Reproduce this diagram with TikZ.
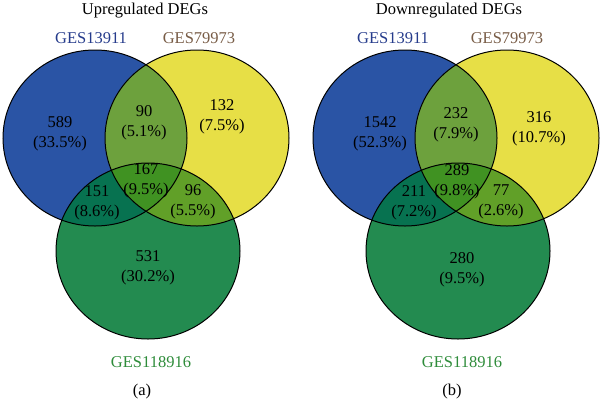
\documentclass[tikz,border=0pt]{standalone}
\usepackage{fontspec}
\setmainfont{Liberation Serif}
\definecolor{cblue}{RGB}{42,84,165}
\definecolor{cyellow}{RGB}{231,223,70}
\definecolor{cgreen}{RGB}{35,139,80}
\definecolor{cby}{RGB}{109,161,61}
\definecolor{cbg}{RGB}{7,114,80}
\definecolor{cyg}{RGB}{97,160,40}
\definecolor{cc}{RGB}{64,146,34}
\definecolor{tblue}{RGB}{38,60,140}
\definecolor{tbrown}{RGB}{120,92,70}
\definecolor{tgreen}{RGB}{46,140,58}
\tikzset{
  txt/.style={font=\fontsize{16.5}{20.5}\selectfont, align=center, inner sep=0pt, text=black},
  outl/.style={draw=black, line width=1pt}
}
\newcommand\vennA{(95,138) ellipse [x radius=92pt, y radius=88pt]}
\newcommand\vennB{(197,138) ellipse [x radius=92pt, y radius=88pt]}
\newcommand\vennC{(148,251) ellipse [x radius=92pt, y radius=88pt]}
\newcommand\venndraw{%
  \fill[cblue] \vennA; \fill[cyellow] \vennB; \fill[cgreen] \vennC;
  \begin{scope}\clip \vennA; \fill[cby] \vennB; \end{scope}
  \begin{scope}\clip \vennA; \fill[cbg] \vennC; \end{scope}
  \begin{scope}\clip \vennB; \fill[cyg] \vennC; \end{scope}
  \begin{scope}\clip \vennA; \clip \vennB; \fill[cc] \vennC; \end{scope}
  \path[outl] \vennA; \path[outl] \vennB; \path[outl] \vennC;}
\begin{document}
\begin{tikzpicture}[x=1pt,y=-1pt]
\useasboundingbox (0,0) rectangle (601,402);
\fill[white] (0,0) rectangle (601,402);
% left diagram
\venndraw
\node[txt] (ta) at (145,11) {Upregulated DEGs};
\node[txt, text=tblue] (la1) at (91,38) {GES13911};
\node[txt, text=tbrown] (la2) at (199,38) {GES79973};
\node[txt, text=tgreen] (la3) at (151,362) {GES118916};
\node[txt] (a1) at (60,134) {589\\(33.5\%)};
\node[txt] (a2) at (144,123) {90\\(5.1\%)};
\node[txt] (a3) at (222,117) {132\\(7.5\%)};
\node[txt] (a4) at (146,181) {167\\(9.5\%)};
\node[txt] (a5) at (97,203) {151\\(8.6\%)};
\node[txt] (a6) at (193,202) {96\\(5.5\%)};
\node[txt] (a7) at (148,268) {531\\(30.2\%)};
\node[txt] (capa) at (142,392) {(a)};
% right diagram
\begin{scope}[xshift=310pt]
\venndraw
\end{scope}
\node[txt] (tb) at (449,11) {Downregulated DEGs};
\node[txt, text=tblue] (lb1) at (393,38) {GES13911};
\node[txt, text=tbrown] (lb2) at (507,38) {GES79973};
\node[txt, text=tgreen] (lb3) at (462,362) {GES118916};
\node[txt] (b1) at (380,134) {1542\\(52.3\%)};
\node[txt] (b2) at (456,125) {232\\(7.9\%)};
\node[txt] (b3) at (539,129) {316\\(10.7\%)};
\node[txt] (b4) at (457,182) {289\\(9.8\%)};
\node[txt] (b5) at (414,203) {211\\(7.2\%)};
\node[txt] (b6) at (501,202) {77\\(2.6\%)};
\node[txt] (b7) at (462,270) {280\\(9.5\%)};
\node[txt] (capb) at (452,392) {(b)};
\end{tikzpicture}
\end{document}
